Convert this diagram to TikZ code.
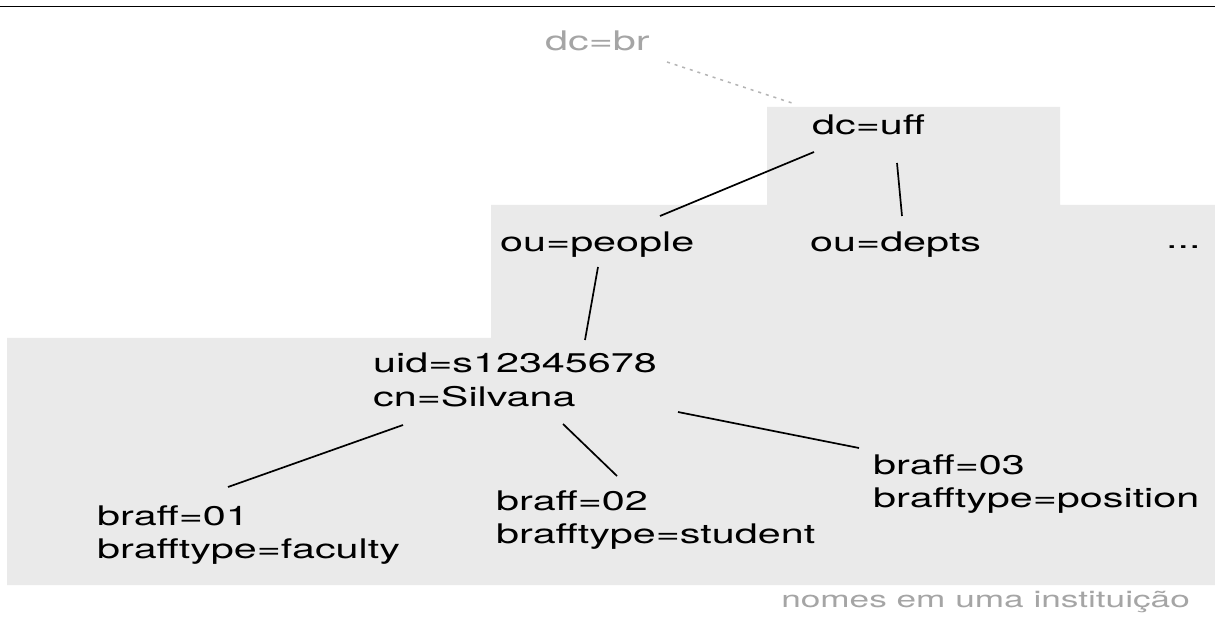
\documentclass[tikz,border=0pt]{standalone}
\usepackage{fontspec}
\setmainfont{TeX Gyre Heros}[FakeStretch=1.53]
\newcommand{\twol}[2]{\vtop{\hbox{#1}\hbox{#2}}}
\begin{document}
\begin{tikzpicture}[x=1pt,y=-1pt,
  lbl/.style={anchor=base west,inner sep=0pt,font=\fontsize{27}{33}\selectfont},
  greylbl/.style={lbl,text=textgrey},
  edge/.style={draw=black,line width=1.7pt},
  upedge/.style={draw=dashgrey,line width=1.5pt,dash pattern=on 3pt off 5pt}]
\definecolor{bggrey}{RGB}{234,234,234}
\definecolor{textgrey}{RGB}{165,165,165}
\definecolor{dashgrey}{RGB}{180,180,180}
\useasboundingbox (0,0) rectangle (1215,617);
\fill[white] (0,0) rectangle (1215,617);
\draw[line width=1.4pt] (0,6.3) -- (1215,6.3);
\fill[bggrey] (7,338) -- (491,338) -- (491,205) -- (767,205) -- (767,107) -- (1060,107)
  -- (1060,205) -- (1215,205) -- (1215,585) -- (7,585) -- cycle;
\node[greylbl] (br) at (545,51) {dc=br};
\node[lbl] (uff) at (812,135) {dc=uff};
\node[lbl] (people) at (500,252) {ou=people};
\node[lbl] (depts) at (810,252) {ou=depts};
\node[lbl] (more) at (1166,249) {...};
\node[lbl] (uid) at (373,373) {\twol{uid=s12345678}{cn=Silvana}};
\node[lbl] (b1) at (97,525) {\twol{braff=01}{brafftype=faculty}};
\node[lbl] (b2) at (496,510) {\twol{braff=02}{brafftype=student}};
\node[lbl] (b3) at (873,474) {\twol{braff=03}{brafftype=position}};
\node[greylbl,anchor=base east,font=\fontsize{23}{27}\selectfont] (cap) at (1190,607) {nomes em uma instituição};
\draw[upedge] ([shift={(122,11)}]br.base west) -- ([shift={(-17,-31)}]uff.base west);
\draw[edge] ([shift={(2,17)}]uff.base west) -- ([shift={(160,-36)}]people.base west);
\draw[edge] ([shift={(85,28)}]uff.base west) -- ([shift={(92,-36)}]depts.base west);
\draw[edge] ([shift={(98,15)}]people.base west) -- ([shift={(212,-33)}]uid.base west);
\draw[edge] ([shift={(30,52)}]uid.base west) -- ([shift={(131,-38)}]b1.base west);
\draw[edge] ([shift={(190,51)}]uid.base west) -- ([shift={(121,-34)}]b2.base west);
\draw[edge] ([shift={(305,39)}]uid.base west) -- ([shift={(-14,-26)}]b3.base west);
\end{tikzpicture}
\end{document}
